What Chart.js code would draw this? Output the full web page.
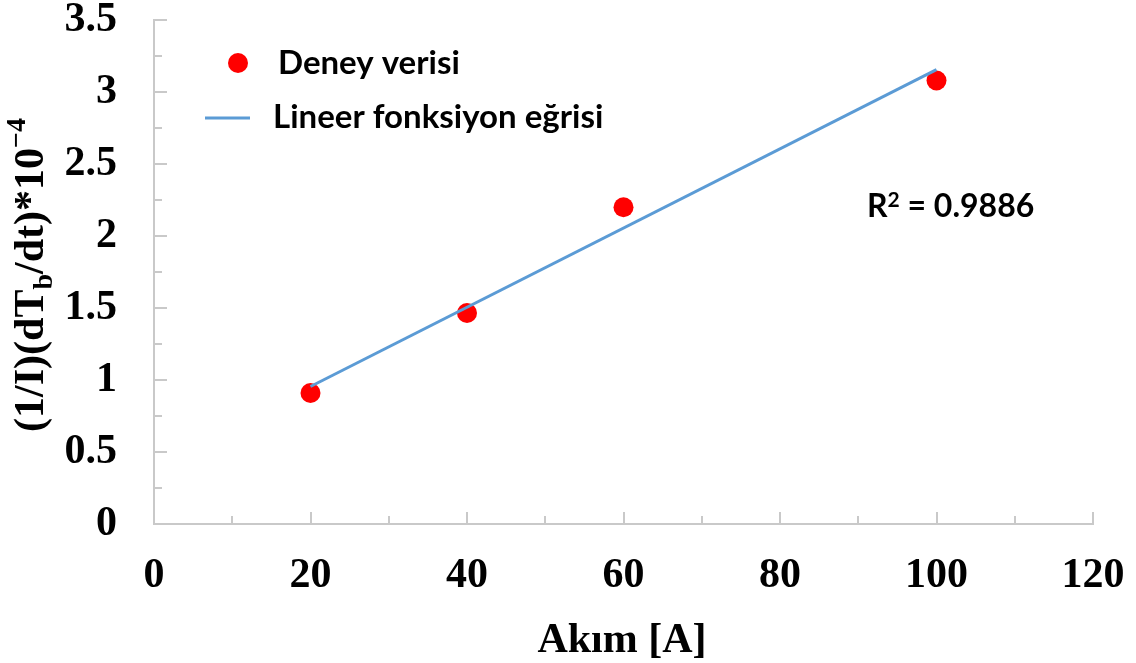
<!DOCTYPE html>
<html>
<head>
<meta charset="utf-8">
<script src="https://cdn.jsdelivr.net/npm/chart.js@4/dist/chart.umd.min.js"></script>
<style>
  html, body { margin: 0; padding: 0; background: #ffffff; }
  #wrap { width: 1136px; height: 663px; }
</style>
</head>
<body>
<div id="wrap"><canvas id="c" width="1136" height="663"></canvas></div>
<script>
// Measured current values and the heating-rate quantity
const currentA   = [20, 40, 60, 100];
const rateValues = [0.91, 1.465, 2.20, 3.08];

// Linear trendline end points
const fitA      = [20, 100];
const fitValues = [0.955, 3.155];

// Axis ticks
const xTicks      = [0, 20, 40, 60, 80, 100, 120];
const xMinorTicks = [10, 30, 50, 70, 90, 110];
const yTicks      = [0, 0.5, 1, 1.5, 2, 2.5, 3, 3.5];
const yMinorTicks = [0.25, 0.75, 1.25, 1.75, 2.25, 2.75, 3.25];

const seriesNames = ['Deney verisi', 'Lineer fonksiyon eğrisi'];
// R² note pieces: [text, role]
const rSquaredParts = [['R', 'main'], ['2', 'sup'], [' = 0.9886', 'main']];
const xTitle = 'Akım [A]';
// y title pieces: [text, role]
const yTitleParts = [['(1/I)(dT', 'main'], ['b', 'sub'], ['/dt)*10', 'main'], ['−4', 'sup']];

const AXIS_COLOR = '#c9c9c9';
const SERIF = '"Liberation Serif", "Times New Roman", serif';
const SANS = 'Lato, "Open Sans", sans-serif';

// Draws a run of text pieces with sub/superscripts along the current baseline
function drawRichText(ctx, parts, fonts, shift, x, y) {
  parts.forEach(([t, r]) => {
    ctx.font = fonts[r];
    ctx.fillText(t, x, y + shift[r]);
    x += ctx.measureText(t).width;
  });
}
function richWidth(ctx, parts, fonts) {
  let w = 0;
  parts.forEach(([t, r]) => { ctx.font = fonts[r]; w += ctx.measureText(t).width; });
  return w;
}

// Inward major/minor tick marks along both axes
const tickMarks = {
  id: 'tickMarks',
  beforeDatasetsDraw(chart) {
    const { ctx, chartArea, scales } = chart;
    ctx.save();
    ctx.strokeStyle = AXIS_COLOR;
    ctx.lineWidth = 2;
    const xs = scales.x, ys = scales.y;
    const xMarks = xTicks.map(v => [v, 12]).concat(xMinorTicks.map(v => [v, 8]));
    xMarks.forEach(([v, len]) => {
      const px = Math.round(xs.getPixelForValue(v));
      ctx.beginPath();
      ctx.moveTo(px, chartArea.bottom);
      ctx.lineTo(px, chartArea.bottom - len);
      ctx.stroke();
    });
    const yMarks = yTicks.map(v => [v, 13]).concat(yMinorTicks.map(v => [v, 8]));
    yMarks.forEach(([v, len]) => {
      const py = Math.round(ys.getPixelForValue(v));
      ctx.beginPath();
      ctx.moveTo(chartArea.left, py);
      ctx.lineTo(chartArea.left + len, py);
      ctx.stroke();
    });
    ctx.restore();
  }
};

// Legend, R² note and the two axis titles
const annotations = {
  id: 'annotations',
  afterDraw(chart) {
    const { ctx, chartArea } = chart;
    const ds = chart.data.datasets;
    ctx.save();

    // legend
    const lx = chartArea.left;
    ctx.fillStyle = ds[0].backgroundColor;
    ctx.beginPath();
    ctx.arc(lx + 84, 63, 10, 0, Math.PI * 2);
    ctx.fill();
    ctx.strokeStyle = ds[1].borderColor;
    ctx.lineWidth = 3;
    ctx.beginPath();
    ctx.moveTo(lx + 51, 118);
    ctx.lineTo(lx + 96, 118);
    ctx.stroke();
    ctx.fillStyle = '#000';
    ctx.font = 'bold 33px ' + SANS;
    ctx.textAlign = 'left';
    ctx.textBaseline = 'middle';
    ctx.fillText(seriesNames[0], lx + 124, 63);
    ctx.fillText(seriesNames[1], lx + 119, 117);

    // R squared
    ctx.textBaseline = 'alphabetic';
    drawRichText(ctx, rSquaredParts,
      { main: 'bold 32px ' + SANS, sup: 'bold 21px ' + SANS },
      { main: 0, sup: -10 }, 867, 217);

    // x title
    ctx.font = 'bold 42px ' + SERIF;
    ctx.textAlign = 'center';
    ctx.fillText(xTitle, 622, 652);

    // y title, rotated, with subscript and superscript
    const fonts = {
      main: 'bold 42px ' + SERIF,
      sub: 'bold 28px ' + SERIF,
      sup: 'bold 28px ' + SERIF
    };
    const shift = { main: 0, sub: 9, sup: -18 };
    ctx.textAlign = 'left';
    const total = richWidth(ctx, yTitleParts, fonts);
    ctx.translate(43, 275);
    ctx.rotate(-Math.PI / 2);
    drawRichText(ctx, yTitleParts, fonts, shift, -total / 2, 0);
    ctx.restore();
  }
};

const tickFont = { family: SERIF, size: 42, weight: 'bold' };

new Chart(document.getElementById('c'), {
  type: 'scatter',
  data: {
    datasets: [
      {
        label: seriesNames[0],
        data: currentA.map((a, i) => ({ x: a, y: rateValues[i] })),
        backgroundColor: '#ff0000',
        borderWidth: 0,
        pointRadius: 10,
        pointHoverRadius: 10,
        order: 1
      },
      {
        label: seriesNames[1],
        data: fitA.map((a, i) => ({ x: a, y: fitValues[i] })),
        showLine: true,
        borderColor: '#5b9bd5',
        borderWidth: 3,
        pointRadius: 0,
        fill: false,
        order: 0
      }
    ]
  },
  options: {
    responsive: false,
    animation: false,
    devicePixelRatio: 1,
    layout: { padding: { top: 20, right: 43, left: 0, bottom: 0 } },
    plugins: { legend: { display: false }, tooltip: { enabled: false } },
    scales: {
      x: {
        type: 'linear',
        min: 0, max: 120,
        afterBuildTicks: s => { s.ticks = xTicks.map(v => ({ value: v })); },
        afterFit: s => { s.height = 139; s.paddingLeft = 0; s.paddingRight = 0; },
        grid: { display: false, drawTicks: false },
        border: { display: true, color: AXIS_COLOR, width: 2 },
        ticks: { font: tickFont, color: '#000', padding: 27, maxRotation: 0, autoSkip: false }
      },
      y: {
        type: 'linear',
        min: 0, max: 3.5,
        afterBuildTicks: s => { s.ticks = yTicks.map(v => ({ value: v })); },
        afterFit: s => { s.width = 154; s.paddingTop = 0; s.paddingBottom = 0; },
        grid: { display: false, drawTicks: false },
        border: { display: true, color: AXIS_COLOR, width: 2 },
        ticks: { font: tickFont, color: '#000', padding: 37, callback: v => String(v) }
      }
    }
  },
  plugins: [tickMarks, annotations]
});
</script>
</body>
</html>
